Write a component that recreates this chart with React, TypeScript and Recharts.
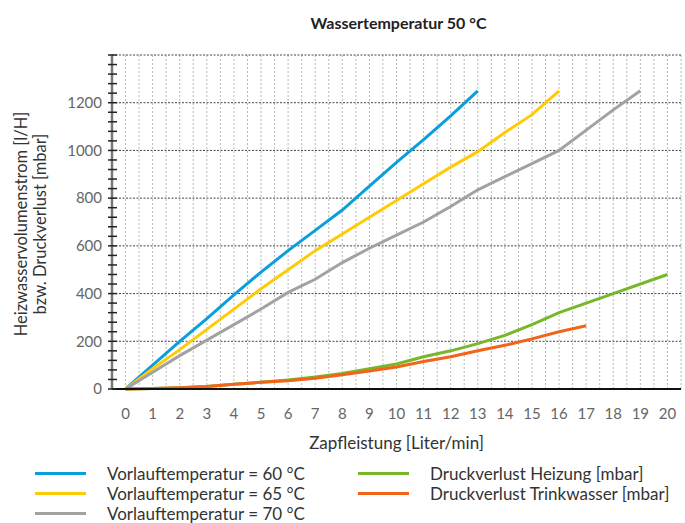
import React from 'react';
import { LineChart, Line, XAxis, YAxis, ReferenceLine } from 'recharts';

const flow = [0, 1, 2, 3, 4, 5, 6, 7, 8, 9, 10, 11, 12, 13, 14, 15, 16, 17, 18, 19, 20];
const vorlauf60 = [0, 100, 200, 295, 395, 490, 580, 665, 750, 850, 950, 1045, 1145, 1250];
const vorlauf65 = [0, 85, 165, 250, 335, 420, 500, 580, 650, 720, 790, 860, 930, 995, 1075, 1150, 1250];
const vorlauf70 = [0, 70, 140, 205, 270, 335, 405, 460, 530, 590, 645, 700, 765, 835, 890, 945, 1000, 1085, 1170, 1250];
const druckHeizung = [0, 2, 5, 10, 20, 28, 38, 50, 65, 85, 105, 135, 160, 190, 225, 270, 320, 360, 400, 440, 480];
const druckTrinkwasser = [0, 2, 5, 10, 20, 28, 35, 45, 60, 75, 92, 115, 135, 160, 183, 210, 240, 265];

const xTicks = flow;
const yTicks = [0, 40, 80, 120, 160, 200, 240, 280, 320, 360, 400, 440, 480, 520, 560, 600, 640, 680, 720, 760, 800,
  840, 880, 920, 960, 1000, 1040, 1080, 1120, 1160, 1200, 1240, 1280, 1320, 1360, 1400];
const yMajor = [200, 400, 600, 800, 1000, 1200, 1400];
const xGrid = [0, 0.5, 1, 1.5, 2, 2.5, 3, 3.5, 4, 4.5, 5, 5.5, 6, 6.5, 7, 7.5, 8, 8.5, 9, 9.5, 10, 10.5,
  11, 11.5, 12, 12.5, 13, 13.5, 14, 14.5, 15, 15.5, 16, 16.5, 17, 17.5, 18, 18.5, 19, 19.5, 20, 20.5];

const series = [
  { key: 'v60', name: 'Vorlauftemperatur = 60 °C', values: vorlauf60, color: '#0a9fdc' },
  { key: 'v65', name: 'Vorlauftemperatur = 65 °C', values: vorlauf65, color: '#ffcb05' },
  { key: 'v70', name: 'Vorlauftemperatur = 70 °C', values: vorlauf70, color: '#a2a2a2' },
  { key: 'heiz', name: 'Druckverlust Heizung [mbar]', values: druckHeizung, color: '#77b82a' },
  { key: 'trink', name: 'Druckverlust Trinkwasser [mbar]', values: druckTrinkwasser, color: '#f26419' },
];

const data = flow.map((x, i) => {
  const row: any = { x };
  series.forEach((s) => {
    if (i < s.values.length) row[s.key] = s.values[i];
  });
  return row;
});

const FONT = 'Lato, sans-serif';

const YTick = ({ x, y, payload }: any) => {
  const v = payload.value;
  const showLabel = v % 200 === 0 && v < 1400;
  return (
    <g>
      <line x1={x - 4} x2={x + 5} y1={y} y2={y} stroke="#222" strokeWidth={1.5} />
      {showLabel && (
        <text x={x - 10} y={y} dy="0.35em" textAnchor="end" fill="#666" fontSize={15} fontFamily={FONT}>
          {v}
        </text>
      )}
    </g>
  );
};

const LegendItem = ({ s, left, top }: any) => (
  <div style={{ position: 'absolute', left, top, height: 20, display: 'flex', alignItems: 'center' }}>
    <div style={{ width: 51, height: 3, background: s.color }} />
    <span style={{ marginLeft: 21, fontSize: 17, color: '#333', fontFamily: FONT, whiteSpace: 'nowrap' }}>{s.name}</span>
  </div>
);

export default function App() {
  return (
    <div style={{ position: 'absolute', left: 0, top: 0, width: 685, height: 523, background: '#fff', fontFamily: FONT }}>
      <div style={{ position: 'absolute', left: 0, width: 797, top: 13, textAlign: 'center', fontSize: 16, fontWeight: 'bold', color: '#222' }}>
        Wassertemperatur 50 °C
      </div>
      <div
        style={{
          position: 'absolute', left: 31, top: 224, width: 320, transform: 'translate(-50%, -50%) rotate(-90deg)',
          textAlign: 'center', fontSize: 16.5, lineHeight: '19px', color: '#333',
        }}
      >
        Heizwasservolumenstrom [l/H]
        <br />
        bzw. Druckverlust [mbar]
      </div>
      <LineChart width={685} height={523} data={data} margin={{ top: 55, right: 4, bottom: 104, left: 0 }}>
        {xGrid.map((g) => (
          <ReferenceLine key={'gx' + g} x={g} stroke="#b8b8b8" strokeDasharray="2 2" strokeWidth={1} />
        ))}
        {yMajor.map((g) => (
          <ReferenceLine key={'gy' + g} y={g} stroke="#444" strokeDasharray="2 1.5" strokeWidth={1} />
        ))}
        <XAxis
          dataKey="x"
          type="number"
          domain={[-0.5, 20.5]}
          ticks={xTicks}
          interval={0}
          height={30}
          tickLine={false}
          tickSize={0}
          tickMargin={19}
          axisLine={{ stroke: '#111', strokeWidth: 2 }}
          tick={{ fill: '#666', fontSize: 15, fontFamily: FONT }}
          label={{ value: 'Zapfleistung [Liter/min]', position: 'insideBottom', offset: -30, fill: '#333', fontSize: 17, fontFamily: FONT }}
        />
        <YAxis
          type="number"
          domain={[0, 1400]}
          ticks={yTicks}
          interval={0}
          width={112}
          tickLine={false}
          tickSize={0}
          tickMargin={0}
          axisLine={{ stroke: '#777', strokeWidth: 2.5 }}
          tick={<YTick />}
        />
        {series.map((s) => (
          <Line
            key={s.key}
            type="linear"
            dataKey={s.key}
            name={s.name}
            stroke={s.color}
            strokeWidth={3}
            dot={false}
            isAnimationActive={false}
          />
        ))}
      </LineChart>
      <LegendItem s={series[0]} left={35} top={463} />
      <LegendItem s={series[1]} left={35} top={483} />
      <LegendItem s={series[2]} left={35} top={503} />
      <LegendItem s={series[3]} left={358} top={463} />
      <LegendItem s={series[4]} left={358} top={483} />
    </div>
  );
}
